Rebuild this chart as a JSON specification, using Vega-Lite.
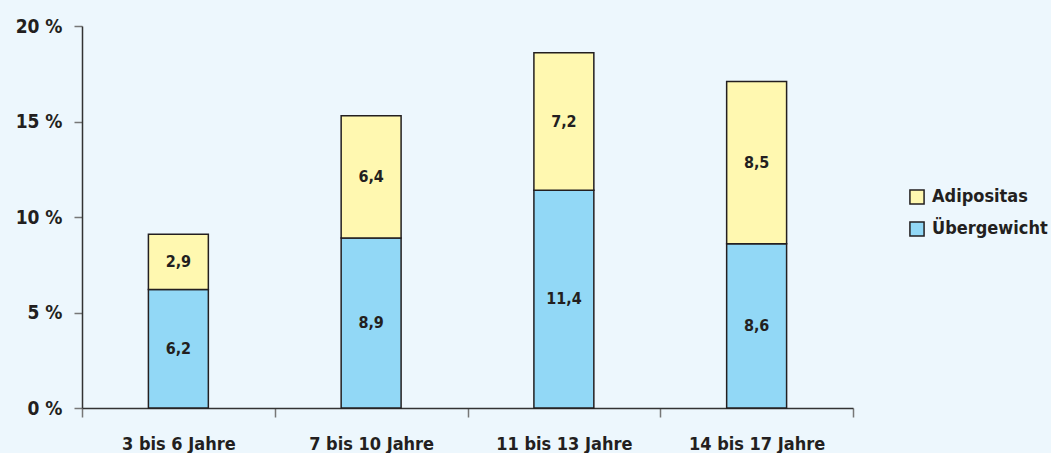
{
  "$schema": "https://vega.github.io/schema/vega-lite/v6.json",
  "width": 771,
  "height": 382,
  "autosize": {"type": "none"},
  "padding": {"left": 82, "top": 26, "right": 198, "bottom": 45},
  "background": "#EDF7FD",
  "config": {
    "view": {"stroke": null},
    "locale": {"number": {"decimal": ",", "thousands": ".", "grouping": [3], "currency": ["", " €"]}},
    "font": "'DejaVu Sans Condensed', 'Roboto', sans-serif"
  },
  "data": {
    "values": [
      {"group": "3 bis 6 Jahre", "type": "Übergewicht", "value": 6.2, "ord": 1},
      {"group": "3 bis 6 Jahre", "type": "Adipositas", "value": 2.9, "ord": 2},
      {"group": "7 bis 10 Jahre", "type": "Übergewicht", "value": 8.9, "ord": 1},
      {"group": "7 bis 10 Jahre", "type": "Adipositas", "value": 6.4, "ord": 2},
      {"group": "11 bis 13 Jahre", "type": "Übergewicht", "value": 11.4, "ord": 1},
      {"group": "11 bis 13 Jahre", "type": "Adipositas", "value": 7.2, "ord": 2},
      {"group": "14 bis 17 Jahre", "type": "Übergewicht", "value": 8.6, "ord": 1},
      {"group": "14 bis 17 Jahre", "type": "Adipositas", "value": 8.5, "ord": 2}
    ]
  },
  "transform": [
    {"stack": "value", "groupby": ["group"], "sort": [{"field": "ord", "order": "ascending"}], "as": ["v0", "v1"]},
    {"calculate": "(datum.v0 + datum.v1) / 2", "as": "mid"}
  ],
  "encoding": {
    "x": {
      "field": "group", "type": "nominal", "sort": null, "title": null,
      "scale": {"paddingInner": 0, "paddingOuter": 0},
      "axis": {
        "tickBand": "extent", "labelAngle": 0, "labelFontSize": 18, "labelFontWeight": "bold",
        "labelColor": "#231F20", "labelPadding": 18, "domainColor": "#333333", "domainWidth": 1.5,
        "tickColor": "#777777", "tickSize": 9, "tickWidth": 1.5
      }
    }
  },
  "layer": [
    {
      "mark": {"type": "bar", "stroke": "#231F20", "strokeWidth": 1.5, "width": {"band": 0.311}},
      "encoding": {
        "y": {
          "field": "v0", "type": "quantitative", "title": null,
          "scale": {"domain": [0, 20]},
          "axis": {
            "values": [0, 5, 10, 15, 20], "grid": false, "labelExpr": "datum.value + ' %'",
            "labelFontSize": 19, "labelFontWeight": "bold", "labelColor": "#231F20", "labelPadding": 12,
            "domainColor": "#333333", "domainWidth": 1.5, "tickColor": "#777777", "tickSize": 8, "tickWidth": 1.5
          }
        },
        "y2": {"field": "v1"},
        "color": {
          "field": "type", "type": "nominal", "title": null,
          "scale": {"domain": ["Adipositas", "Übergewicht"], "range": ["#FFF8B0", "#92D8F6"]},
          "legend": {
            "orient": "none", "legendX": 826, "legendY": 162, "symbolType": "square",
            "symbolSize": 200, "symbolStrokeColor": "#231F20", "symbolStrokeWidth": 1.5,
            "labelFontSize": 18, "labelFontWeight": "bold", "labelColor": "#231F20",
            "rowPadding": 10, "labelOffset": 6
          }
        }
      }
    },
    {
      "mark": {"type": "text", "fontSize": 16, "fontWeight": "bold", "color": "#231F20"},
      "encoding": {
        "y": {"field": "mid", "type": "quantitative"},
        "text": {"field": "value", "type": "quantitative", "format": ".1f"}
      }
    }
  ]
}
